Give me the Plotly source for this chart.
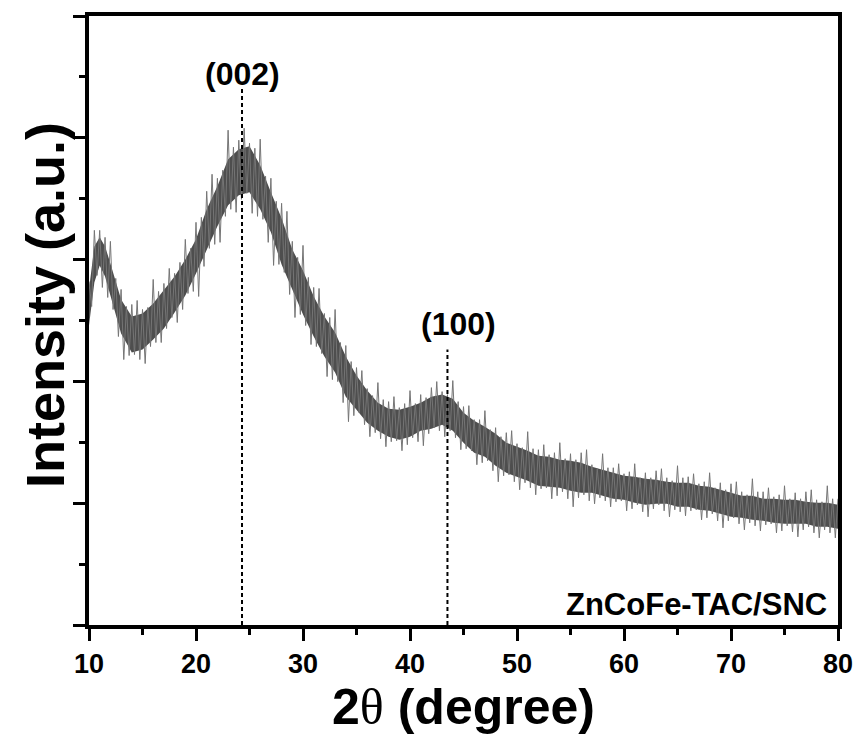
import plotly.graph_objects as go

# XRD pattern (2theta from 10 deg, step 0.25 deg; intensity in a.u.)
theta_start = 10.0
theta_step = 0.25
intensity = [
    343, 318, 394, 349, 394, 337, 387, 327, 383, 315, 346, 288, 335, 265, 318, 269, 320, 270, 324, 265,
    315, 261, 317, 278, 345, 282, 333, 282, 341, 296, 356, 307, 351, 302, 362, 315, 385, 331, 376, 333,
    402, 328, 407, 358, 433, 376, 450, 380, 446, 382, 454, 408, 494, 415, 477, 412, 484, 425, 496, 431,
    481, 411, 476, 408, 485, 405, 448, 382, 446, 359, 423, 360, 421, 352, 413, 330, 383, 307, 367, 310,
    379, 299, 347, 280, 337, 278, 336, 271, 311, 248, 307, 245, 315, 243, 282, 222, 279, 203, 263, 209,
    257, 212, 254, 200, 236, 188, 229, 192, 242, 186, 225, 178, 223, 183, 228, 184, 217, 174, 221, 180,
    234, 187, 221, 183, 230, 179, 227, 191, 237, 197, 243, 194, 233, 188, 230, 194, 244, 187, 223, 175,
    218, 176, 219, 174, 205, 160, 205, 162, 214, 164, 195, 154, 197, 143, 188, 149, 192, 150, 194, 143,
    181, 135, 177, 142, 193, 137, 176, 130, 175, 136, 180, 137, 170, 126, 172, 129, 182, 133, 166, 126,
    171, 118, 165, 127, 172, 130, 175, 124, 160, 121, 156, 127, 171, 124, 157, 118, 157, 123, 161, 124,
    151, 114, 153, 116, 161, 120, 147, 113, 152, 108, 147, 116, 154, 120, 156, 114, 147, 108, 144, 115,
    159, 113, 147, 109, 148, 114, 151, 115, 141, 105, 143, 107, 152, 111, 137, 104, 142, 97, 135, 104,
    141, 107, 143, 101, 133, 95, 130, 102, 146, 99, 133, 94, 133, 100, 137, 101, 128, 92, 130, 94,
    139, 99, 126, 93, 132, 88, 126, 95, 133, 98, 135, 92, 125, 87, 123, 95, 139, 92, 126, 87,
    126,
]
two_theta = [theta_start + theta_step * i for i in range(len(intensity))]

# Dense core of the noisy band (upper / lower edge)
core_theta = [10, 10.5, 11, 11.5, 12, 13, 14, 15, 16, 17, 18, 19, 20, 21, 22, 23, 24, 25, 26, 27,
              28, 29, 30, 31, 32, 33, 34, 35, 36, 37, 38, 39, 40, 41, 42, 43, 44, 45, 46, 47,
              48, 49, 50, 51, 52, 53, 54, 55, 56, 57, 58, 59, 60, 61, 62, 63, 64, 65, 66, 67,
              68, 69, 70, 71, 72, 73, 74, 75, 76, 77, 78, 79, 80]
core_upper = [335, 378, 387, 378, 361, 325, 308, 311, 321, 334, 348, 365, 385, 415, 438, 465, 475, 478, 459, 432,
              406, 375, 354, 328, 308, 292, 268, 249, 234, 222, 216, 215, 218, 222, 228, 230, 226, 212, 204, 198,
              191, 182, 178, 174, 169, 168, 165, 164, 162, 158, 155, 152, 149, 148, 146, 145, 143, 142, 142, 139,
              138, 135, 132, 129, 129, 126, 126, 125, 125, 123, 122, 122, 120]
core_lower = [299, 342, 359, 348, 329, 291, 272, 275, 285, 296, 312, 329, 351, 375, 398, 419, 429, 432, 415, 392,
              360, 335, 310, 288, 268, 252, 228, 215, 202, 194, 188, 185, 188, 194, 196, 200, 194, 182, 172, 168,
              159, 152, 148, 144, 139, 138, 137, 134, 132, 132, 129, 126, 125, 122, 120, 121, 121, 118, 118, 115,
              114, 111, 108, 107, 105, 104, 102, 101, 101, 101, 98, 98, 96]

# Peak markers
peak_labels = ["(002)", "(100)"]
peak_pos = [24.3, 43.5]
peak_line_top = [538, 275]
peak_label_shift = [(0, -8), (11, 6)]
sample_label = "ZnCoFe-TAC/SNC"

y_top = 608
y_major = [0, 121.6, 243.2, 364.8, 486.4, 608]
y_minor = [60.8, 182.4, 304.0, 425.6, 547.2]

band_color = "#4e4e4e"

fig = go.Figure()
fig.add_trace(go.Scatter(
    x=core_theta, y=core_lower, mode="lines", line=dict(color=band_color, width=0),
    showlegend=False, hoverinfo="skip",
))
fig.add_trace(go.Scatter(
    x=core_theta, y=core_upper, mode="lines", line=dict(color=band_color, width=0),
    fill="tonexty", fillcolor=band_color, showlegend=False, hoverinfo="skip",
))
fig.add_trace(go.Scatter(
    x=two_theta, y=intensity, mode="lines",
    line=dict(color="#757575", width=1),
    showlegend=False, hoverinfo="skip",
))

for lab, xp, yt, (dx, dy) in zip(peak_labels, peak_pos, peak_line_top, peak_label_shift):
    fig.add_trace(go.Scatter(
        x=[xp, xp], y=[0, yt], mode="lines",
        line=dict(color="black", width=2, dash="4px,3px"),
        showlegend=False, hoverinfo="skip",
    ))
    fig.add_annotation(
        x=xp, y=yt, text=lab, showarrow=False, yanchor="bottom", xshift=dx, yshift=dy,
        font=dict(family="Liberation Sans, Arial", size=32, color="black", weight="bold"),
    )

fig.add_annotation(
    x=1, y=0, xref="paper", yref="paper", xanchor="right", yanchor="bottom",
    xshift=-9, yshift=1, text=sample_label, showarrow=False,
    font=dict(family="Liberation Sans, Arial", size=31, color="black", weight="bold"),
)

# y-axis title as a rotated annotation (placed as in the reference)
fig.add_annotation(
    x=-0.059, y=0.525, xref="paper", yref="paper", xanchor="center", yanchor="middle",
    textangle=-90, text="Intensity (a.u.)", showarrow=False,
    font=dict(family="Liberation Sans, Arial", size=54, color="black", weight="bold"),
)

axis_font = dict(family="Liberation Sans, Arial", size=27, color="black", weight="bold")

fig.update_xaxes(
    range=[10, 80], tickmode="array", tickvals=[10, 20, 30, 40, 50, 60, 70, 80],
    ticks="outside", ticklen=12, tickwidth=3, tickcolor="black",
    minor=dict(tickvals=[15, 25, 35, 45, 55, 65, 75], ticks="outside", ticklen=6, tickwidth=3, tickcolor="black"),
    showline=True, linewidth=3.5, linecolor="black", mirror=True,
    showgrid=False, zeroline=False, tickfont=axis_font,
    title=dict(text="2<span style='font-family:Liberation Serif, Times New Roman; font-weight:normal'>θ</span> (degree)",
               font=dict(family="Liberation Sans, Arial", size=50, color="black", weight="bold"), standoff=10),
)
fig.update_yaxes(
    range=[0, y_top], tickmode="array", tickvals=y_major, showticklabels=False,
    ticks="outside", ticklen=12, tickwidth=3, tickcolor="black",
    minor=dict(tickvals=y_minor, ticks="outside", ticklen=6, tickwidth=3, tickcolor="black"),
    showline=True, linewidth=3.5, linecolor="black", mirror=True,
    showgrid=False, zeroline=False,
)

fig.update_layout(
    width=865, height=756,
    margin=dict(l=89, r=22, t=15, b=131),
    plot_bgcolor="white", paper_bgcolor="white",
)

fig.write_html("out.html")
